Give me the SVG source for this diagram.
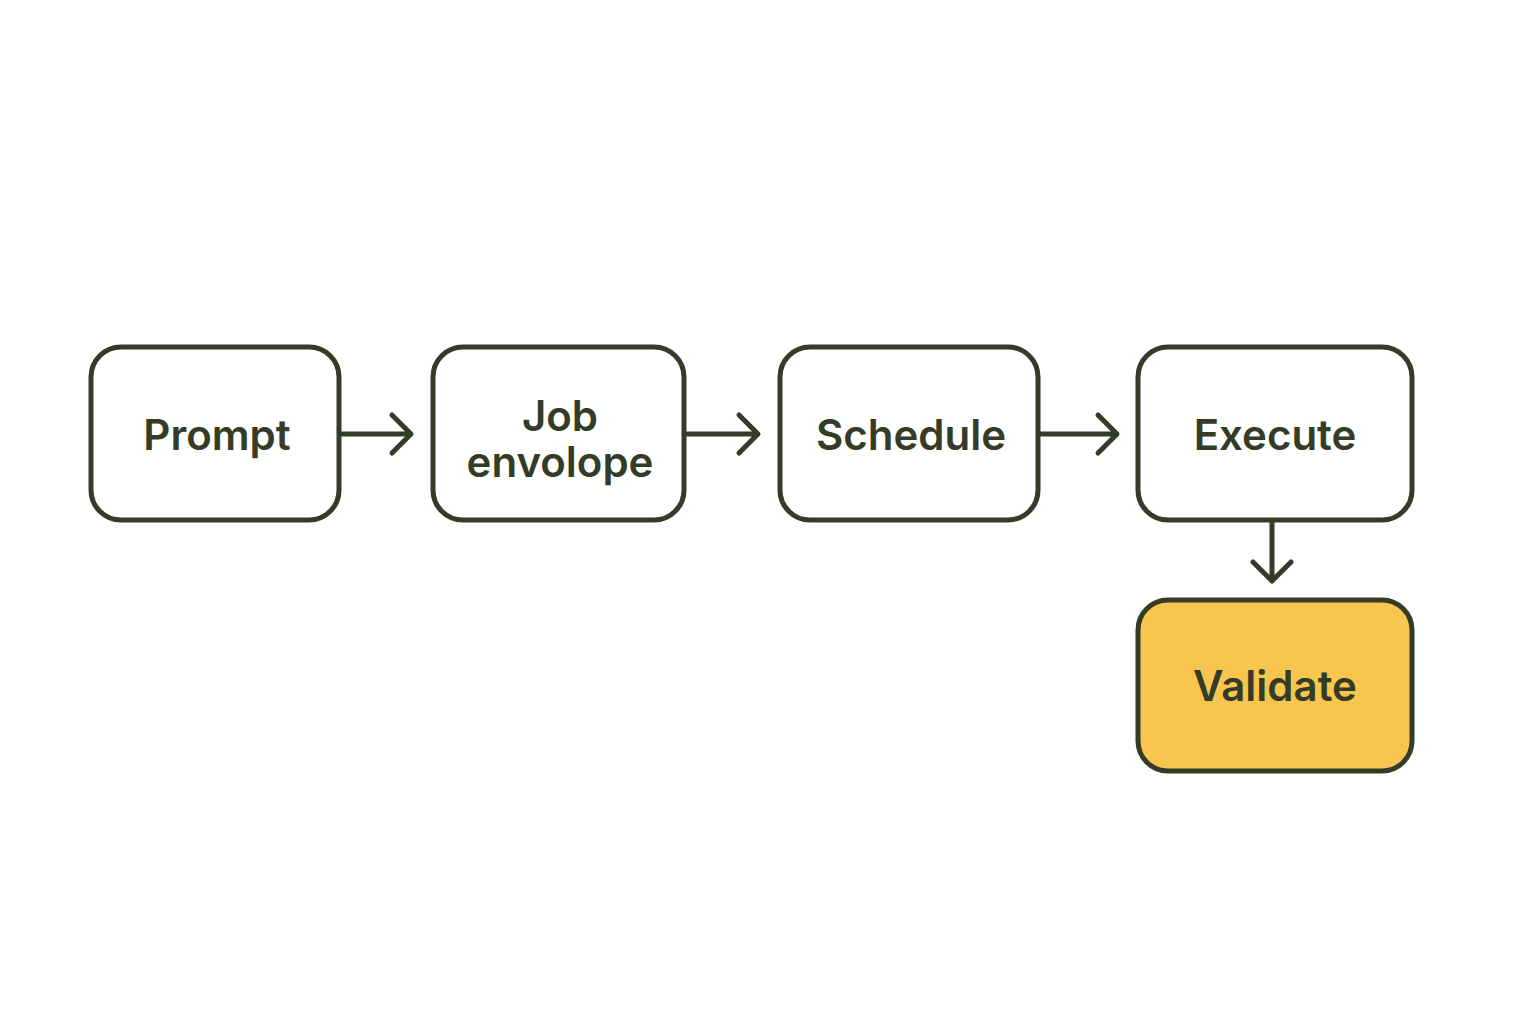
<svg xmlns="http://www.w3.org/2000/svg" width="1536" height="1024" viewBox="0 0 1536 1024">
<style>
.box{fill:#fff;stroke:#343b27;stroke-width:5}
.hl{fill:#f8c64e}
.t{font-family:Inter,"Liberation Sans",sans-serif;font-weight:600;font-size:42px;fill:#343b27;text-anchor:middle}
.c{fill:none;stroke:#343b27;stroke-width:5;stroke-linecap:round;stroke-linejoin:round}
</style>
<rect width="1536" height="1024" fill="#fff"/>
<g id="prompt"><rect class="box" x="91" y="347" width="248" height="173" rx="30"/><text class="t" x="217" y="450">Prompt</text></g>
<g id="job"><rect class="box" x="433" y="347" width="251" height="173" rx="30"/><text class="t" x="560" y="431">Job</text><text class="t" x="560" y="477">envolope</text></g>
<g id="schedule"><rect class="box" x="780" y="347" width="258" height="173" rx="30"/><text class="t" x="911" y="450">Schedule</text></g>
<g id="execute"><rect class="box" x="1138" y="347" width="274" height="173" rx="30"/><text class="t" x="1275" y="450">Execute</text></g>
<g id="validate"><rect class="box hl" x="1138" y="600" width="274" height="171" rx="30"/><text class="t" x="1275" y="701">Validate</text></g>
<g id="connectors">
<path class="c" d="M341 434H410M392 415L411 434L392 453"/>
<path class="c" d="M686 434H757M739 415L758 434L739 453"/>
<path class="c" d="M1040 434H1116M1098 415L1117 434L1098 453"/>
<path class="c" d="M1272 522V580M1253 562L1272 581L1291 562"/>
</g>
</svg>
